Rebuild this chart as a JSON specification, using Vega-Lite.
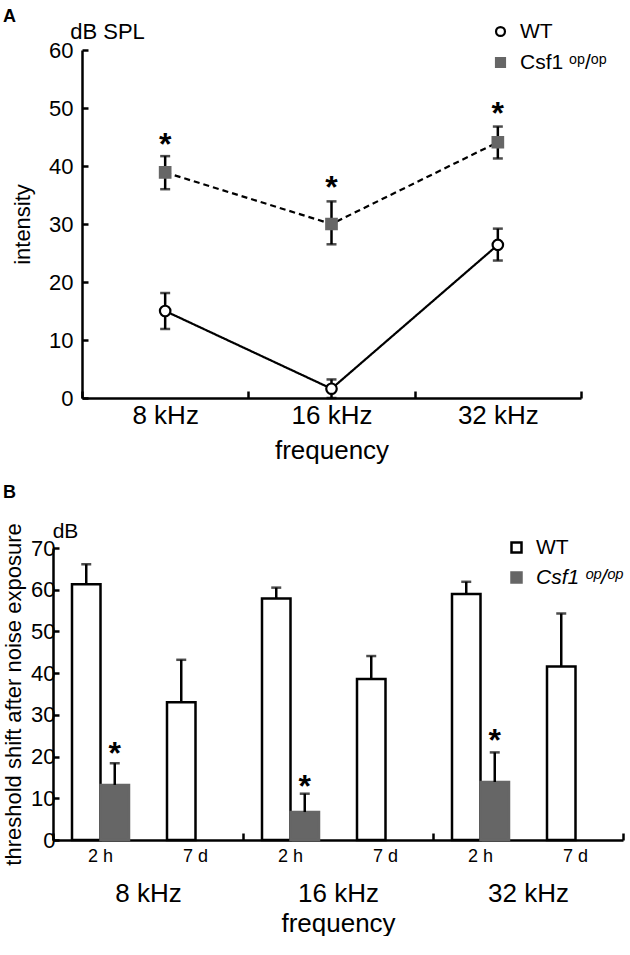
{
  "$schema": "https://vega.github.io/schema/vega-lite/v6.json",
  "background": "white",
  "padding": {"left": 2, "top": 8, "right": 0, "bottom": 0},
  "config": {
    "font": "Liberation Sans",
    "view": {"stroke": null},
    "axis": {"domainColor": "black", "tickColor": "black", "labelColor": "black", "titleColor": "black", "domainWidth": 2.5, "tickWidth": 2.5, "grid": false, "labelFont": "Liberation Sans", "titleFont": "Liberation Sans", "titleFontWeight": "normal"},
    "legend": {"labelFont": "Liberation Sans", "labelColor": "black"},
    "title": {"font": "Liberation Sans", "color": "black"}
  },
  "columns": 1,
  "spacing": 21,
  "resolve": {
    "scale": {"fill": "independent", "stroke": "independent", "shape": "independent"},
    "legend": {"fill": "independent", "stroke": "independent", "shape": "independent"}
  },
  "concat": [
    {
      "width": 528,
      "height": 348,
      "title": {"text": "A", "anchor": "start", "frame": "group", "dx": -50, "dy": 6, "offset": 0, "fontSize": 18, "fontWeight": "bold"},
      "data": {"values": [
        {"freq": "8 kHz", "genotype": "WT", "mean": 15.0, "lo": 11.9, "hi": 18.1},
        {"freq": "16 kHz", "genotype": "WT", "mean": 1.6, "lo": 0.0, "hi": 3.2},
        {"freq": "32 kHz", "genotype": "WT", "mean": 26.4, "lo": 23.7, "hi": 29.2},
        {"freq": "8 kHz", "genotype": "Csf1", "mean": 38.9, "lo": 36.0, "hi": 41.7, "star": 44.9},
        {"freq": "16 kHz", "genotype": "Csf1", "mean": 30.0, "lo": 26.5, "hi": 33.9, "star": 37.5},
        {"freq": "32 kHz", "genotype": "Csf1", "mean": 44.1, "lo": 41.3, "hi": 46.8, "star": 50.2}
      ]},
      "encoding": {
        "x": {"field": "freq", "type": "nominal", "sort": ["8 kHz", "16 kHz", "32 kHz"],
          "scale": {"paddingInner": 0, "paddingOuter": 0, "range": [29, 528]},
          "axis": {"title": "frequency", "labelAngle": 0, "labelFontSize": 26, "titleFontSize": 26, "tickBand": "extent", "tickSize": -7, "labelPadding": 11, "titlePadding": 9}}
      },
      "layer": [
        {"mark": {"type": "line", "color": "black", "strokeWidth": 2.2},
         "encoding": {
           "y": {"field": "mean", "type": "quantitative", "scale": {"domain": [0, 60], "nice": false},
             "axis": {"orient": "left", "offset": -29, "title": "intensity", "values": [0, 10, 20, 30, 40, 50, 60], "labelFontSize": 22, "titleFontSize": 22, "tickSize": -6, "labelPadding": 15, "titlePadding": 14}},
           "detail": {"field": "genotype"},
           "strokeDash": {"field": "genotype", "type": "nominal", "scale": {"domain": ["WT", "Csf1"], "range": [[1, 0], [6, 4]]}, "legend": null}
         }},
        {"mark": {"type": "rule", "color": "black", "strokeWidth": 2.5},
         "encoding": {
           "y": {"field": "lo", "type": "quantitative",
             "axis": {"orient": "left", "offset": -29, "title": "dB SPL", "labels": false, "ticks": false, "domain": false, "titleAngle": 0, "titleX": 25, "titleY": -19, "titleFontSize": 22, "titleAlign": "center", "titleBaseline": "middle"}},
           "y2": {"field": "hi"},
           "detail": {"field": "genotype"}
         }},
        {"mark": {"type": "tick", "color": "black", "thickness": 2.5, "size": 10},
         "encoding": {"y": {"field": "lo", "type": "quantitative", "axis": null}, "detail": {"field": "genotype"}}},
        {"mark": {"type": "tick", "color": "black", "thickness": 2.5, "size": 10},
         "encoding": {"y": {"field": "hi", "type": "quantitative", "axis": null}, "detail": {"field": "genotype"}}},
        {"mark": {"type": "point", "filled": false, "opacity": 1, "strokeWidth": 2.2, "size": 110},
         "encoding": {
           "y": {"field": "mean", "type": "quantitative", "axis": null},
           "shape": {"field": "genotype", "type": "nominal", "scale": {"domain": ["WT", "Csf1"], "range": ["circle", "square"]},
             "legend": {"title": null, "orient": "none", "legendX": 437, "legendY": -29, "labelFontSize": 21, "symbolSize": 80, "symbolStrokeWidth": 2.2, "rowPadding": 9, "labelOffset": 9, "labelExpr": "datum.value == 'WT' ? 'WT' : 'Csf1 ᵒᵖ/ᵒᵖ'", "encode": {"labels": {"update": {"fontStyle": {"signal": "datum.value == 'WT' ? 'normal' : 'italic'"}}}}}},
           "fill": {"field": "genotype", "type": "nominal", "scale": {"domain": ["WT", "Csf1"], "range": ["white", "#666666"]},
             "legend": {"title": null, "orient": "none", "legendX": 437, "legendY": -29, "labelFontSize": 21, "symbolSize": 80, "symbolStrokeWidth": 2.2, "rowPadding": 9, "labelOffset": 9, "labelExpr": "datum.value == 'WT' ? 'WT' : 'Csf1 ᵒᵖ/ᵒᵖ'", "encode": {"labels": {"update": {"fontStyle": {"signal": "datum.value == 'WT' ? 'normal' : 'italic'"}}}}}},
           "stroke": {"field": "genotype", "type": "nominal", "scale": {"domain": ["WT", "Csf1"], "range": ["black", "#666666"]},
             "legend": {"title": null, "orient": "none", "legendX": 437, "legendY": -29, "labelFontSize": 21, "symbolSize": 80, "symbolStrokeWidth": 2.2, "rowPadding": 9, "labelOffset": 9, "labelExpr": "datum.value == 'WT' ? 'WT' : 'Csf1 ᵒᵖ/ᵒᵖ'", "encode": {"labels": {"update": {"fontStyle": {"signal": "datum.value == 'WT' ? 'normal' : 'italic'"}}}}}}
         }},
        {"mark": {"type": "text", "text": "*", "fontSize": 32, "fontWeight": "bold", "dy": 7, "color": "black"},
         "encoding": {"y": {"field": "star", "type": "quantitative", "axis": null}}}
      ],
      "resolve": {"axis": {"y": "independent"}}
    },
    {
      "width": 570,
      "height": 292,
      "title": {"text": "B", "anchor": "start", "frame": "group", "dx": -50, "offset": 18, "fontSize": 18, "fontWeight": "bold"},
      "layer": [
        {
          "data": {"values": [
            {"slot": "8 kHz 2 h", "genotype": "WT", "value": 61.3, "hi": 66.1},
            {"slot": "8 kHz 7 d", "genotype": "WT", "value": 33.0, "hi": 43.2},
            {"slot": "16 kHz 2 h", "genotype": "WT", "value": 57.9, "hi": 60.5},
            {"slot": "16 kHz 7 d", "genotype": "WT", "value": 38.6, "hi": 44.1},
            {"slot": "32 kHz 2 h", "genotype": "WT", "value": 59.0, "hi": 61.9},
            {"slot": "32 kHz 7 d", "genotype": "WT", "value": 41.6, "hi": 54.3},
            {"slot": "8 kHz 2 h", "genotype": "Csf1", "value": 13.2, "hi": 18.4, "star": 22.3},
            {"slot": "16 kHz 2 h", "genotype": "Csf1", "value": 6.7, "hi": 11.1, "star": 14.3},
            {"slot": "32 kHz 2 h", "genotype": "Csf1", "value": 13.9, "hi": 21.0, "star": 25.3}
          ]},
          "encoding": {
            "x": {"field": "slot", "type": "nominal", "sort": ["8 kHz 2 h", "8 kHz 7 d", "16 kHz 2 h", "16 kHz 7 d", "32 kHz 2 h", "32 kHz 7 d"],
              "scale": {"paddingInner": 0.4, "paddingOuter": 0.2},
              "axis": {"title": null, "labelExpr": "indexof(datum.label, '2 h') >= 0 ? '2 h' : '7 d'", "ticks": false, "labelFontSize": 18, "labelPadding": 7, "labelAngle": 0}},
            "xOffset": {"field": "genotype", "type": "nominal", "scale": {"domain": ["WT", "Csf1"], "paddingInner": 0, "paddingOuter": 0}}
          },
          "layer": [
            {"mark": {"type": "bar", "strokeWidth": 2.5, "strokeJoin": "miter"},
             "encoding": {
               "y": {"field": "value", "type": "quantitative", "scale": {"domain": [0, 70], "nice": false},
                 "axis": {"orient": "left", "title": "threshold shift after noise exposure", "values": [0, 10, 20, 30, 40, 50, 60, 70], "labelFontSize": 22, "titleFontSize": 22, "tickSize": -6, "labelPadding": 4, "titlePadding": 5}},
               "fill": {"field": "genotype", "type": "nominal", "scale": {"domain": ["WT", "Csf1"], "range": ["white", "#666666"]},
                 "legend": {"title": null, "orient": "none", "legendX": 453, "legendY": -11, "labelFontSize": 21, "symbolType": "square", "symbolSize": 100, "symbolStrokeWidth": 2.5, "rowPadding": 8, "labelOffset": 9, "labelExpr": "datum.value == 'WT' ? 'WT' : 'Csf1 ᵒᵖ/ᵒᵖ'", "encode": {"labels": {"update": {"fontStyle": {"signal": "datum.value == 'WT' ? 'normal' : 'italic'"}}}}}},
               "stroke": {"field": "genotype", "type": "nominal", "scale": {"domain": ["WT", "Csf1"], "range": ["black", "#666666"]},
                 "legend": {"title": null, "orient": "none", "legendX": 453, "legendY": -11, "labelFontSize": 21, "symbolType": "square", "symbolSize": 100, "symbolStrokeWidth": 2.5, "rowPadding": 8, "labelOffset": 9, "labelExpr": "datum.value == 'WT' ? 'WT' : 'Csf1 ᵒᵖ/ᵒᵖ'", "encode": {"labels": {"update": {"fontStyle": {"signal": "datum.value == 'WT' ? 'normal' : 'italic'"}}}}}}
             }},
            {"mark": {"type": "rule", "color": "black", "strokeWidth": 2.5},
             "encoding": {
               "y": {"field": "value", "type": "quantitative",
                 "axis": {"orient": "left", "title": "dB", "labels": false, "ticks": false, "domain": false, "titleAngle": 0, "titleX": 12, "titleY": -17, "titleFontSize": 21, "titleAlign": "center", "titleBaseline": "middle"}},
               "y2": {"field": "hi"}
             }},
            {"mark": {"type": "tick", "color": "black", "thickness": 2.5, "size": 10},
             "encoding": {"y": {"field": "hi", "type": "quantitative", "axis": null}}},
            {"mark": {"type": "text", "text": "*", "fontSize": 32, "fontWeight": "bold", "dy": 7, "color": "black"},
             "encoding": {"y": {"field": "star", "type": "quantitative", "axis": null}}}
          ],
          "resolve": {"axis": {"y": "independent"}}
        },
        {
          "data": {"values": [{"freq": "8 kHz"}, {"freq": "16 kHz"}, {"freq": "32 kHz"}]},
          "mark": {"type": "text", "text": ""},
          "encoding": {
            "x": {"field": "freq", "type": "nominal", "sort": ["8 kHz", "16 kHz", "32 kHz"],
              "scale": {"paddingInner": 0, "paddingOuter": 0},
              "axis": {"orient": "bottom", "title": "frequency", "domain": false, "tickBand": "extent", "tickSize": -7, "labelFontSize": 26, "titleFontSize": 26, "labelPadding": 47, "titlePadding": 4, "labelAngle": 0}}
          }
        }
      ],
      "resolve": {"scale": {"x": "independent"}, "axis": {"y": "independent"}}
    }
  ]
}
